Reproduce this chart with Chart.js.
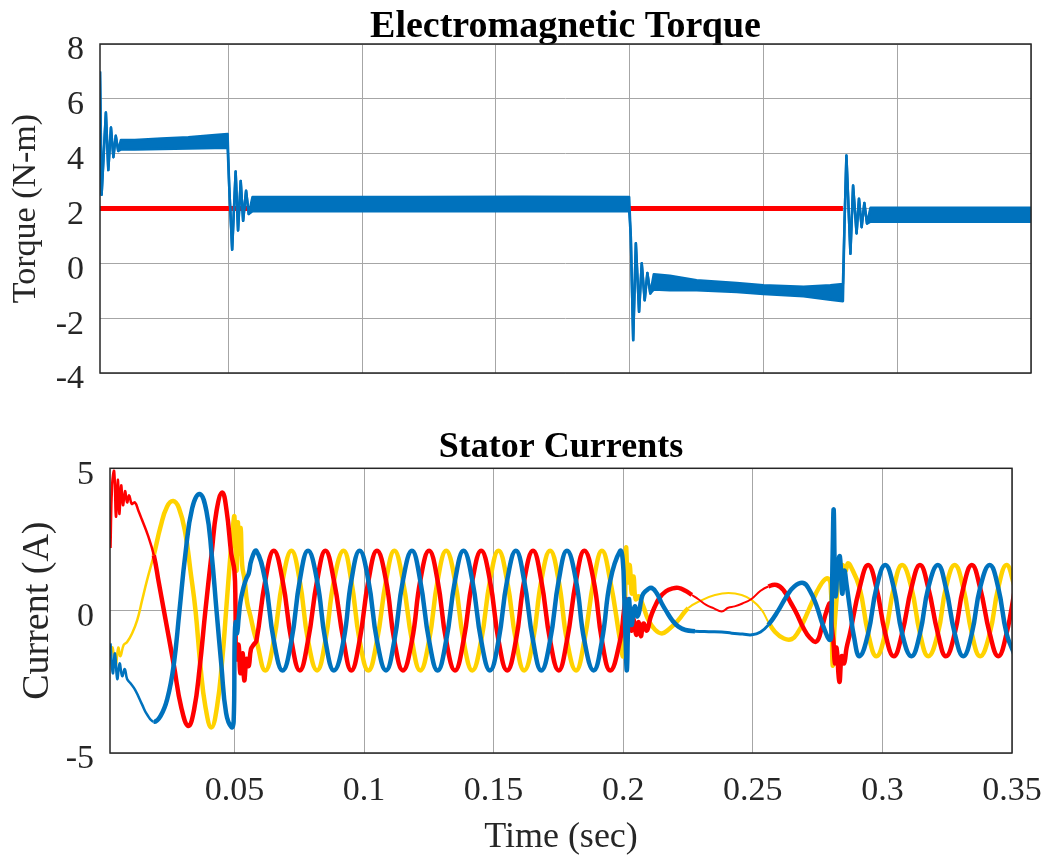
<!DOCTYPE html>
<html>
<head>
<meta charset="utf-8">
<script src="https://cdn.jsdelivr.net/npm/chart.js@4.4.1/dist/chart.umd.min.js"></script>
<style>
  body { margin: 0; background: #fff; }
  #torque { position: absolute; left: 0; top: 0; }
  #current { position: absolute; left: 0; top: 400px; }
</style>
</head>
<body>
<canvas id="torque" width="1047" height="430"></canvas>
<canvas id="current" width="1047" height="456"></canvas>
<script>
// ---- ejes ----
const timeTicks = [0.05, 0.1, 0.15, 0.2, 0.25, 0.3, 0.35];
const timeLabels = ['0.05', '0.1', '0.15', '0.2', '0.25', '0.3', '0.35'];
const torqueTicks = [-4, -2, 0, 2, 4, 6, 8];
const currentTicks = [-5, 0, 5];

// ---- par electromagnetico (envolvente superior / inferior de la banda de rizado) ----
const torqueTime = [0.0020, 0.0026, 0.0042, 0.0051, 0.0061, 0.0070, 0.0079, 0.0088, 0.0098, 0.0150, 0.0250, 0.0350, 0.0450, 0.0497,
  0.0503, 0.0514, 0.0527, 0.0536, 0.0546, 0.0555, 0.0566, 0.0576, 0.0590, 0.0800, 0.1200, 0.1600, 0.1998,
  0.2004, 0.2013, 0.2023, 0.2035, 0.2045, 0.2056, 0.2066, 0.2077, 0.2090, 0.2150, 0.2250, 0.2400, 0.2500, 0.2650, 0.2750, 0.2797,
  0.2803, 0.2810, 0.2825, 0.2835, 0.2848, 0.2857, 0.2867, 0.2877, 0.2887, 0.2900, 0.3200, 0.3500];
const torqueUpper = [7.0, 2.5, 5.5, 3.4, 4.95, 3.87, 4.65, 4.1, 4.5, 4.5, 4.55, 4.6, 4.68, 4.72,
  2.8, 0.5, 3.35, 1.2, 3.0, 1.55, 2.65, 1.8, 2.42, 2.42, 2.42, 2.43, 2.42,
  1.0, -2.8, 0.73, -1.77, 0.0, -1.35, -0.35, -1.1, -0.4, -0.45, -0.62, -0.72, -0.8, -0.85, -0.8, -0.75,
  1.5, 3.93, 0.35, 2.84, 1.09, 2.36, 1.32, 2.2, 1.45, 2.03, 2.03, 2.03];
const torqueLower = [7.0, 2.5, 5.5, 3.4, 4.95, 3.87, 4.65, 4.1, 4.15, 4.15, 4.17, 4.19, 4.21, 4.22,
  2.8, 0.5, 3.35, 1.2, 3.0, 1.55, 2.65, 1.8, 1.9, 1.9, 1.9, 1.9, 1.9,
  1.0, -2.8, 0.73, -1.77, 0.0, -1.35, -0.35, -1.1, -0.95, -0.98, -0.98, -1.05, -1.12, -1.2, -1.33, -1.38,
  1.5, 3.93, 0.35, 2.84, 1.09, 2.36, 1.32, 2.2, 1.45, 1.52, 1.52, 1.52];
const refTime = [0.002, 0.2797];
const refTorque = [2, 2];

// ---- corrientes: arranque (t, i) ----
const redStart = [[0.0022, 2.2], [0.0028, 4.4], [0.0036, 4.9], [0.0043, 3.3], [0.0050, 4.6], [0.0056, 3.4], [0.0063, 4.4],
  [0.0070, 3.7], [0.0078, 4.2], [0.0086, 3.8], [0.0094, 4.05], [0.0104, 3.75], [0.0116, 3.8], [0.0130, 3.5], [0.0143, 3.2],
  [0.0166, 2.65], [0.0189, 1.95], [0.0208, 1.0], [0.0228, 0.0], [0.0266, -1.9], [0.0295, -3.4], [0.0322, -4.05], [0.0344, -3.5],
  [0.0366, -2.0], [0.0388, 0.0], [0.0412, 2.0], [0.0431, 3.5], [0.0453, 4.15], [0.0470, 3.5], [0.0488, 2.0], [0.0500, 1.4],
  [0.0504, 0.2], [0.0507, -1.7], [0.0516, -1.2], [0.0523, -2.2], [0.0532, -1.5], [0.0538, -2.45], [0.0547, -1.7], [0.0555, -1.95],
  [0.0564, -1.35], [0.0574, -1.2]];
const yellowStart = [[0.0022, -1.5], [0.0030, -1.3], [0.0041, -2.0], [0.0052, -1.3], [0.0060, -1.6], [0.0073, -1.2], [0.0086, -1.1],
  [0.0105, -0.8], [0.0125, -0.33], [0.0144, 0.37], [0.0163, 1.07], [0.0189, 1.95], [0.0215, 2.95], [0.0240, 3.65], [0.0264, 3.85],
  [0.0286, 3.6], [0.0311, 2.7], [0.0330, 1.43], [0.0350, 0.0], [0.0369, -1.95], [0.0388, -3.37], [0.0411, -4.1], [0.0433, -3.37],
  [0.0453, -1.73], [0.0468, 0.0], [0.0485, 2.0], [0.0495, 3.0], [0.0500, 3.3], [0.0508, 1.4], [0.0513, 3.1], [0.0518, 2.0],
  [0.0524, 2.9], [0.0530, 1.6], [0.0539, 1.1], [0.0549, 0.3], [0.0562, -0.2], [0.0577, -0.8]];
const blueStart = [[0.0022, -1.15], [0.0031, -2.2], [0.0039, -1.5], [0.0048, -2.4], [0.0057, -1.85], [0.0067, -2.3], [0.0077, -2.05],
  [0.0086, -2.4], [0.0099, -2.55], [0.0118, -2.8], [0.0144, -3.3], [0.0163, -3.65], [0.0189, -3.9], [0.0215, -3.7], [0.0241, -3.1],
  [0.0266, -1.9], [0.0288, 0.0], [0.0311, 2.0], [0.0337, 3.6], [0.0366, 4.1], [0.0392, 3.5], [0.0412, 2.0], [0.0431, 0.0],
  [0.0450, -1.95], [0.0468, -3.6], [0.0489, -4.1], [0.0497, -3.9], [0.0501, -1.0], [0.0505, -0.4], [0.0510, -0.8], [0.0517, -0.2],
  [0.0523, 0.3], [0.0536, 0.85], [0.0546, 1.13], [0.0555, 1.3], [0.0566, 1.8]];

// ---- regimen 0.06 - 0.2 s: instantes de picos/valles y valor de cada fase ----
const steadyTime1 = [0.0585, 0.0619, 0.0652, 0.0686, 0.0720, 0.0752, 0.0784, 0.0819, 0.0851, 0.0884, 0.0921, 0.0951,
  0.0983, 0.1017, 0.1050, 0.1085, 0.1117, 0.1150, 0.1185, 0.1217, 0.1251, 0.1284, 0.1317, 0.1351,
  0.1384, 0.1418, 0.1452, 0.1486, 0.1519, 0.1552, 0.1586, 0.1618, 0.1652, 0.1684, 0.1718, 0.1751,
  0.1783, 0.1818, 0.1850, 0.1886, 0.1918, 0.1950, 0.1988];
const redSteady1 = [-1.05, 1.05, 2.1, 1.05, -1.05, -2.1, -1.05, 1.05, 2.1, 1.05, -1.05, -2.1,
  -1.05, 1.05, 2.1, 1.05, -1.05, -2.1, -1.05, 1.05, 2.1, 1.05, -1.05, -2.1,
  -1.05, 1.05, 2.1, 1.05, -1.05, -2.1, -1.05, 1.05, 2.1, 1.05, -1.05, -2.1,
  -1.05, 1.05, 2.1, 1.05, -1.05, -2.1, -1.05];
const blueSteady1 = [2.1, 1.05, -1.05, -2.1, -1.05, 1.05, 2.1, 1.05, -1.05, -2.1, -1.05, 1.05,
  2.1, 1.05, -1.05, -2.1, -1.05, 1.05, 2.1, 1.05, -1.05, -2.1, -1.05, 1.05,
  2.1, 1.05, -1.05, -2.1, -1.05, 1.05, 2.1, 1.05, -1.05, -2.1, -1.05, 1.05,
  2.1, 1.05, -1.05, -2.1, -1.05, 1.05, 2.1];
const yellowSteady1 = [-1.05, -2.1, -1.05, 1.05, 2.1, 1.05, -1.05, -2.1, -1.05, 1.05, 2.1, 1.05,
  -1.05, -2.1, -1.05, 1.05, 2.1, 1.05, -1.05, -2.1, -1.05, 1.05, 2.1, 1.05,
  -1.05, -2.1, -1.05, 1.05, 2.1, 1.05, -1.05, -2.1, -1.05, 1.05, 2.1, 1.05,
  -1.05, -2.1, -1.05, 1.05, 2.1, 1.05, -1.05];

// ---- transitorio 0.2 - 0.29 s (t, i) ----
const redMid = [[0.2003, 0.0], [0.2010, 0.4], [0.2016, -0.5], [0.2024, -0.1], [0.2031, -0.7], [0.2040, -0.3], [0.2050, -0.85],
  [0.2060, -0.4], [0.2068, -0.9], [0.2078, -0.45], [0.2091, -0.7], [0.2105, -0.25], [0.2120, 0.1], [0.2140, 0.45], [0.2165, 0.68],
  [0.2190, 0.78], [0.2213, 0.8], [0.2240, 0.7], [0.2265, 0.55], [0.2290, 0.4], [0.2320, 0.2], [0.2350, 0.08], [0.2380, -0.03],
  [0.2405, 0.1], [0.2430, 0.15], [0.2460, 0.25], [0.2496, 0.42], [0.2530, 0.7], [0.2560, 0.85], [0.2592, 0.9], [0.2620, 0.7],
  [0.2645, 0.3], [0.2669, -0.1], [0.2695, -0.6], [0.2720, -0.95], [0.2746, -1.08], [0.2766, -0.6], [0.2785, 0.0], [0.2798, 0.25],
  [0.2804, -0.5], [0.2811, -1.1], [0.2817, -1.85], [0.2823, -1.3], [0.2834, -2.5], [0.2843, -1.6], [0.2852, -1.85], [0.2862, -1.3],
  [0.2875, -0.8]];
const yellowMid = [[0.2000, -1.6], [0.2006, -0.5], [0.2011, 2.2], [0.2018, 1.0], [0.2025, 1.6], [0.2033, 0.6], [0.2040, 1.2],
  [0.2048, 0.4], [0.2060, 0.5], [0.2078, 0.14], [0.2097, -0.33], [0.2123, -0.67], [0.2149, -0.8], [0.2174, -0.67], [0.2213, -0.33],
  [0.2251, 0.09], [0.2303, 0.37], [0.2354, 0.55], [0.2406, 0.62], [0.2457, 0.55], [0.2496, 0.37], [0.2534, 0.03], [0.2560, -0.4],
  [0.2586, -0.75], [0.2620, -0.98], [0.2650, -1.0], [0.2675, -0.75], [0.2700, -0.3], [0.2727, 0.26], [0.2755, 0.8], [0.2785, 1.13],
  [0.2800, 0.95], [0.2808, -1.9], [0.2815, -0.6], [0.2823, 0.4], [0.2830, 1.1], [0.2838, 1.5], [0.2848, 1.6], [0.2858, 1.4],
  [0.2866, 1.65], [0.2875, 1.6]];
const blueMid = [[0.1998, 1.8], [0.2004, 0.5], [0.2009, -1.0], [0.2014, -2.1], [0.2018, -0.8], [0.2022, 0.4], [0.2028, -0.2],
  [0.2033, -0.5], [0.2040, 0.0], [0.2046, 0.15], [0.2053, -0.2], [0.2060, -0.1], [0.2070, 0.4], [0.2078, 0.6], [0.2095, 0.75],
  [0.2110, 0.8], [0.2130, 0.6], [0.2149, 0.25], [0.2165, 0.0], [0.2190, -0.35], [0.2213, -0.56], [0.2240, -0.68], [0.2277, -0.72],
  [0.2330, -0.74], [0.2380, -0.75], [0.2419, -0.79], [0.2460, -0.82], [0.2496, -0.85], [0.2530, -0.75], [0.2560, -0.5], [0.2598, 0.0],
  [0.2630, 0.5], [0.2660, 0.85], [0.2695, 0.97], [0.2720, 0.7], [0.2745, 0.2], [0.2770, -0.5], [0.2798, -1.03], [0.2803, -0.4],
  [0.2808, 2.0], [0.2812, 3.55], [0.2816, 1.5], [0.2820, 0.5], [0.2828, 1.6], [0.2836, 1.9], [0.2845, 0.6], [0.2853, 1.4],
  [0.2862, 0.9], [0.2875, 0.05], [0.2890, -0.9]];

// ---- regimen 0.29 - 0.35 s ----
const steadyTime2 = [0.2912, 0.2945, 0.2977, 0.3011, 0.3044, 0.3076, 0.3112, 0.3145, 0.3177, 0.3214, 0.3245, 0.3279,
  0.3312, 0.3345, 0.3377, 0.3414, 0.3447, 0.3479, 0.3512];
const redSteady2 = [0.8, 1.6, 0.8, -0.8, -1.6, -0.8, 0.8, 1.6, 0.8, -0.8, -1.6, -0.8, 0.8, 1.6, 0.8, -0.8, -1.6, -0.8, 0.8];
const blueSteady2 = [-1.6, -0.8, 0.8, 1.6, 0.8, -0.8, -1.6, -0.8, 0.8, 1.6, 0.8, -0.8, -1.6, -0.8, 0.8, 1.6, 0.8, -0.8, -1.6];
const yellowSteady2 = [0.8, -0.8, -1.6, -0.8, 0.8, 1.6, 0.8, -0.8, -1.6, -0.8, 0.8, 1.6, 0.8, -0.8, -1.6, -0.8, 0.8, 1.6, 0.8];

// ---- estilos ----
const serif = "'Liberation Serif', 'Times New Roman', serif";
const gridColor = '#a6a6a6';
const textColor = '#262626';
const azul = '#0072BD';
const rojo = '#FF0000';
const amarillo = '#FFD200';

function puntos(ts, vs) { return ts.map((t, i) => ({ x: t, y: vs[i] })); }
function pares(p) { return p.map(d => ({ x: d[0], y: d[1] })); }

// en el arranque y en el tramo de baja corriente la traza es mas fina (menos rizado)
function grosor(fino) {
  return ctx => {
    const a = ctx.p0.parsed.x, b = ctx.p1.parsed.x;
    if (b < 0.02) return 2.5;
    if (a > 0.224 && b < 0.257) return fino;
    return undefined;
  };
}

// marco completo alrededor del area (como "box on")
const marco = {
  id: 'marco',
  afterDatasetsDraw(chart) {
    const { ctx, chartArea: a } = chart;
    ctx.save();
    ctx.strokeStyle = textColor;
    ctx.lineWidth = 1.5;
    ctx.strokeRect(a.left, a.top, a.right - a.left, a.bottom - a.top);
    ctx.restore();
  }
};

function ejeX(mostrarEtiquetas, alto) {
  return {
    type: 'linear', min: 0.002, max: 0.35,
    afterBuildTicks: s => { s.ticks = timeTicks.map(v => ({ value: v })); },
    // el margen lateral lo fija layout.padding, no la etiqueta "0.35"
    afterFit: s => { s.height = alto; s.paddingLeft = 0; s.paddingRight = 0; },
    grid: { color: gridColor, lineWidth: 1, drawTicks: false },
    border: { display: false },
    ticks: {
      display: mostrarEtiquetas, padding: 18, maxRotation: 0, autoSkip: false,
      font: { family: serif, size: 34 }, color: textColor,
      callback: (v, i) => timeLabels[i]
    },
    title: {
      display: mostrarEtiquetas, text: 'Time (sec)',
      font: { family: serif, size: 36, lineHeight: 1.0 }, color: textColor, padding: { top: 0, bottom: 0 }
    }
  };
}

function ejeY(min, max, marcas, titulo, tamTitulo, ancho, padTitulo) {
  return {
    min: min, max: max,
    afterBuildTicks: s => { s.ticks = marcas.map(v => ({ value: v })); },
    afterFit: s => { s.width = ancho; },
    grid: { color: gridColor, lineWidth: 1, drawTicks: false },
    border: { display: false },
    ticks: {
      padding: 16, labelOffset: 6.5,
      font: { family: serif, size: 34 }, color: textColor,
      callback: v => String(v)
    },
    title: {
      display: true, text: titulo,
      font: { family: serif, size: tamTitulo }, color: textColor, padding: { top: padTitulo, bottom: 0 }
    }
  };
}

function titulo(texto, tam, alto) {
  return {
    display: true, text: texto, fullSize: false,
    font: { family: serif, size: tam, weight: 'bold', lineHeight: alto }, color: '#000',
    padding: { top: 0, bottom: 0 }
  };
}

// ---- grafico 1: par ----
new Chart(document.getElementById('torque'), {
  type: 'line',
  data: {
    datasets: [
      { data: puntos(refTime, refTorque), borderColor: rojo, borderWidth: 5, order: 3 },
      { data: puntos(torqueTime, torqueUpper), borderColor: azul, borderWidth: 2.5, order: 1 },
      { data: puntos(torqueTime, torqueLower), borderColor: azul, borderWidth: 2.5, order: 2,
        fill: '-1', backgroundColor: azul }
    ]
  },
  options: {
    responsive: false, animation: false, events: [],
    layout: { padding: { top: 10, right: 16, left: 0, bottom: 0 } },
    elements: { point: { radius: 0 }, line: { tension: 0, borderJoinStyle: 'round' } },
    plugins: { legend: { display: false }, tooltip: { enabled: false }, title: titulo('Electromagnetic Torque', 38, 34 / 38) },
    scales: {
      x: ejeX(false, 57),
      y: ejeY(-4, 8, torqueTicks, 'Torque (N-m)', 34, 100, 6)
    }
  },
  plugins: [marco]
});

// ---- grafico 2: corrientes del estator ----
const serieRoja = [...pares(redStart), ...puntos(steadyTime1, redSteady1), ...pares(redMid), ...puntos(steadyTime2, redSteady2)];
const serieAmarilla = [...pares(yellowStart), ...puntos(steadyTime1, yellowSteady1), ...pares(yellowMid), ...puntos(steadyTime2, yellowSteady2)];
const serieAzul = [...pares(blueStart), ...puntos(steadyTime1, blueSteady1), ...pares(blueMid), ...puntos(steadyTime2, blueSteady2)];

new Chart(document.getElementById('current'), {
  type: 'line',
  data: {
    datasets: [
      { data: serieAzul, borderColor: azul, borderWidth: 4.5, order: 1, segment: { borderWidth: grosor(3) } },
      { data: serieRoja, borderColor: rojo, borderWidth: 4.5, order: 2, segment: { borderWidth: grosor(2) } },
      { data: serieAmarilla, borderColor: amarillo, borderWidth: 4.5, order: 3, segment: { borderWidth: grosor(2) } }
    ]
  },
  options: {
    responsive: false, animation: false, events: [],
    layout: { padding: { top: 27.7, right: 35, left: 0, bottom: 0 } },
    elements: { point: { radius: 0 }, line: { tension: 0.45, borderJoinStyle: 'round' } },
    plugins: { legend: { display: false }, tooltip: { enabled: false }, title: titulo('Stator Currents', 36, 40.6 / 36) },
    scales: {
      x: ejeX(true, 103),
      y: ejeY(-5, 5, currentTicks, 'Current (A)', 38, 110, 15)
    }
  },
  plugins: [marco]
});
</script>
</body>
</html>
